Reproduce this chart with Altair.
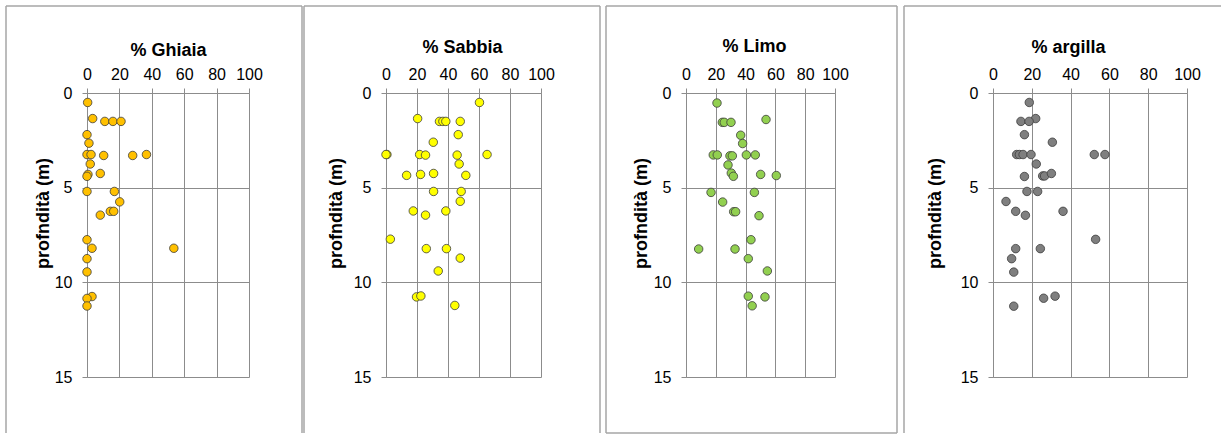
import altair as alt
import pandas as pd

FONT = "Liberation Sans"

# ---- data ----
ghiaia_depth = [0.5, 1.35, 1.5, 1.5, 1.5, 2.2, 2.65, 3.25, 3.25, 3.3, 3.3, 3.25, 3.75,
                4.3, 4.4, 4.25, 5.2, 5.2, 5.75, 6.25, 6.25, 6.45, 7.75, 8.2, 8.2,
                8.75, 9.45, 10.75, 10.85, 11.25]
ghiaia_pct = [0.4, 3.5, 11, 16, 21, 0, 1.2, 0, 2.5, 10.3, 28.2, 36.7, 2,
              0.6, 0, 8.2, 0, 16.9, 20.2, 14.4, 16.5, 8.2, 0, 3.1, 53.6,
              0, 0, 3.1, 0, 0]

sabbia_depth = [0.5, 1.35, 1.5, 1.5, 1.5, 1.5, 2.2, 2.6, 3.25, 3.25, 3.25, 3.28, 3.28,
                3.25, 3.75, 4.35, 4.3, 4.25, 4.35, 5.2, 5.2, 5.72, 6.23, 6.23, 6.45,
                7.72, 8.22, 8.22, 8.72, 9.4, 10.77, 10.72, 11.22]
sabbia_pct = [60.3, 20.4, 34.5, 36.7, 38.6, 47.9, 46.6, 30.5, 0.6, 0, 21.7, 25.5, 45.9,
              65.2, 47.2, 13.3, 22.3, 30.7, 51.5, 30.7, 48.5, 47.9, 17.6, 38.6, 25.5,
              2.8, 26, 39, 47.9, 33.7, 19.7, 22.5, 44.4]

limo_depth = [0.53, 1.4, 1.55, 1.55, 1.55, 2.23, 2.67, 3.27, 3.27, 3.32, 3.32, 3.27,
              3.27, 3.8, 4.23, 4.4, 4.3, 4.36, 5.25, 5.25, 5.76, 6.27, 6.27, 6.48,
              7.75, 8.24, 8.24, 8.75, 9.4, 10.73, 10.77, 11.24]
limo_pct = [20.8, 53.7, 24.4, 25.7, 30.2, 36.7, 38, 18.3, 21, 29.5, 31.1, 40.5,
            46.5, 28.2, 30.4, 31.8, 50.1, 60.6, 16.8, 45.9, 24.6, 32, 33.3, 49,
            43.6, 8.5, 32.9, 41.8, 54.6, 41.8, 53, 44.4]

argilla_depth = [0.5, 1.35, 1.5, 1.5, 2.2, 2.6, 3.25, 3.25, 3.25, 3.25, 3.25, 3.25,
                 3.75, 4.38, 4.38, 4.25, 4.41, 5.2, 5.2, 5.73, 6.25, 6.25, 6.46,
                 7.73, 8.22, 8.22, 8.75, 9.46, 10.84, 10.73, 11.26]
argilla_pct = [18.7, 22, 14.4, 18.6, 16.2, 30.6, 12.2, 13.6, 15.5, 19.6, 52.2, 57.7,
               22.3, 25.6, 26.6, 30.1, 16.2, 17.5, 23, 6.7, 11.7, 36.1, 16.7,
               52.9, 11.7, 24.4, 9.6, 10.7, 26.1, 32, 10.7]

x_ticks = [0, 20, 40, 60, 80, 100]
y_ticks = [0, 5, 10, 15]
y_title = "profndità (m)"

panels = [
    dict(title="% Ghiaia", depth=ghiaia_depth, pct=ghiaia_pct, color="#FFC000",
         w=162, spacer=(-87, 216), box=(-81, 215), right=True, bottom=False,
         tx=81, ty=-38, yx=-39),
    dict(title="% Sabbia", depth=sabbia_depth, pct=sabbia_pct, color="#FFFF00",
         w=155, spacer=(-83, 217), box=(-82, 214), right=True, bottom=False,
         tx=76, ty=-41, yx=-45),
    dict(title="% Limo", depth=limo_depth, pct=limo_pct, color="#92D050",
         w=149, spacer=(-83, 215), box=(-80, 211), right=True, bottom=True,
         tx=68, ty=-42, yx=-40),
    dict(title="% argilla", depth=argilla_depth, pct=argilla_pct, color="#7F7F7F",
         w=194, spacer=(-92, 228), box=(-89, 228), right=False, bottom=False,
         tx=75, ty=-41, yx=-53),
]

H = 284
TOP = -87
BOT = 340
BOX_COLOR = "#A6A6A6"


def make_panel(p):
    df = pd.DataFrame({"pct": p["pct"], "depth": p["depth"]})
    pts = alt.Chart(df).mark_point(
        shape="circle", filled=True, fill=p["color"], stroke="#3C3C3C",
        strokeWidth=0.8, size=72, opacity=1
    ).encode(
        x=alt.X("pct:Q", scale=alt.Scale(domain=[0, 100], nice=False),
                axis=alt.Axis(orient="top", values=x_ticks, title=p["title"],
                              titleX=p["tx"], titleY=p["ty"], titleAlign="center",
                              titleBaseline="alphabetic", labelBaseline="alphabetic",
                              labelPadding=8.5, labelFlush=False, labelOverlap=False)),
        y=alt.Y("depth:Q", scale=alt.Scale(domain=[0, 15], reverse=True, nice=False),
                axis=alt.Axis(orient="left", values=y_ticks, title=y_title,
                              titleX=p["yx"], titleY=120, titleAlign="center",
                              titleBaseline="alphabetic", labelPadding=10,
                              labelFlush=False, labelOverlap=False)),
    )
    dummy = alt.Chart(pd.DataFrame({"d": [0]}))
    L, R = p["box"]
    SL, SR = p["spacer"]
    layers = [
        dummy.mark_rule(opacity=0, strokeWidth=0).encode(
            x=alt.value(SL), x2=alt.value(SR), y=alt.value(TOP)),
        dummy.mark_rule(color=BOX_COLOR, strokeWidth=1.5).encode(
            x=alt.value(L), x2=alt.value(R), y=alt.value(TOP)),
        dummy.mark_rule(color=BOX_COLOR, strokeWidth=1.5).encode(
            x=alt.value(L), y=alt.value(TOP), y2=alt.value(BOT)),
    ]
    if p["right"]:
        layers.append(dummy.mark_rule(color=BOX_COLOR, strokeWidth=1.5).encode(
            x=alt.value(R), y=alt.value(TOP), y2=alt.value(BOT)))
    if p["bottom"]:
        layers.append(dummy.mark_rule(color=BOX_COLOR, strokeWidth=1.5).encode(
            x=alt.value(L), x2=alt.value(R), y=alt.value(BOT)))
    layers.append(pts)
    return alt.layer(*layers).properties(width=p["w"], height=H)


chart = alt.hconcat(*[make_panel(p) for p in panels], spacing=0).properties(
    padding={"left": 0, "top": 5, "right": 0, "bottom": 0},
    background="white",
).configure_view(strokeWidth=0).configure_axis(
    labelFont=FONT, labelFontSize=16, labelColor="#000000",
    titleFont=FONT, titleFontSize=18, titleFontWeight="bold", titleColor="#000000",
    gridColor="#8C8C8C", gridWidth=1, domainColor="#8C8C8C", domainWidth=1,
    tickColor="#8C8C8C", tickSize=5, tickWidth=1, grid=True,
)

chart.save("out.html", embed_options={"renderer": "svg", "actions": False})
